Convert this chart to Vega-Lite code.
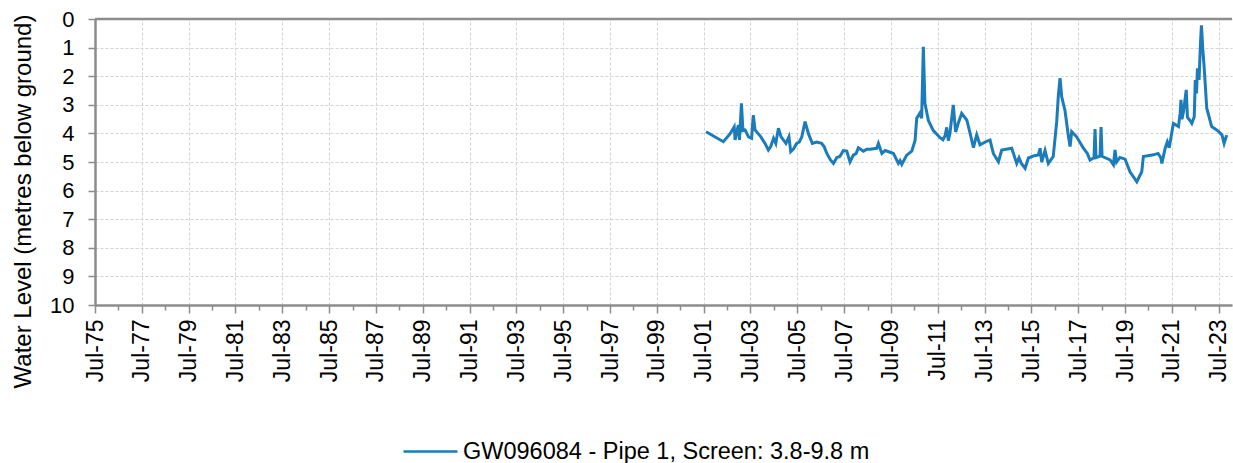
{
  "$schema": "https://vega.github.io/schema/vega-lite/v6.json",
  "width": 1137,
  "height": 286,
  "autosize": {"type": "none"},
  "padding": {"left": 95, "top": 19, "right": 1, "bottom": 158},
  "background": "white",
  "config": {"view": {"stroke": null}, "font": "Liberation Sans"},
  "encoding": {
    "y": {
      "field": "level", "type": "quantitative",
      "scale": {"domain": [0, 10], "reverse": true, "nice": false, "zero": false},
      "axis": {
        "title": "Water Level (metres below ground)",
        "values": [0, 1, 2, 3, 4, 5, 6, 7, 8, 9, 10],
        "labelOverlap": false,
        "labelFlush": false,
        "labelFontSize": 22,
        "labelColor": "#000000",
        "labelPadding": 14,
        "tickSize": 7,
        "tickColor": "#8c8c8c",
        "tickWidth": 1.5,
        "domainColor": "#8c8c8c",
        "domainWidth": 2.5,
        "grid": true,
        "gridColor": "#d4d4d4",
        "gridDash": [3, 2],
        "titleFontSize": 24,
        "titleFontWeight": "normal",
        "titleColor": "#000000",
        "titleAngle": -90,
        "titleX": -72,
        "titleY": 182,
        "titleAlign": "center",
        "titleBaseline": "middle"
      }
    }
  },
  "layer": [
    {
      "data": {"values": [
        {"date": "2001-08-07", "level": 3.94},
        {"date": "2002-05-04", "level": 4.29},
        {"date": "2002-08-15", "level": 4.02},
        {"date": "2002-10-20", "level": 3.77},
        {"date": "2002-11-03", "level": 4.23},
        {"date": "2002-11-28", "level": 3.95},
        {"date": "2002-12-24", "level": 3.71},
        {"date": "2003-01-10", "level": 4.23},
        {"date": "2003-02-10", "level": 2.95},
        {"date": "2003-03-05", "level": 3.90},
        {"date": "2003-04-08", "level": 3.88},
        {"date": "2003-06-01", "level": 4.12},
        {"date": "2003-07-19", "level": 4.17},
        {"date": "2003-08-14", "level": 3.36},
        {"date": "2003-09-10", "level": 3.88},
        {"date": "2003-12-10", "level": 4.12},
        {"date": "2004-02-13", "level": 4.35},
        {"date": "2004-04-05", "level": 4.58},
        {"date": "2004-05-10", "level": 4.47},
        {"date": "2004-06-25", "level": 4.17},
        {"date": "2004-07-30", "level": 4.35},
        {"date": "2004-09-09", "level": 3.82},
        {"date": "2004-10-20", "level": 4.12},
        {"date": "2005-01-05", "level": 4.35},
        {"date": "2005-02-20", "level": 4.12},
        {"date": "2005-03-20", "level": 4.64},
        {"date": "2005-05-01", "level": 4.55},
        {"date": "2005-06-21", "level": 4.35},
        {"date": "2005-08-01", "level": 4.30},
        {"date": "2005-09-09", "level": 4.12},
        {"date": "2005-10-30", "level": 3.59},
        {"date": "2005-12-20", "level": 4.00},
        {"date": "2006-02-20", "level": 4.35},
        {"date": "2006-04-30", "level": 4.30},
        {"date": "2006-07-15", "level": 4.35},
        {"date": "2006-08-25", "level": 4.47},
        {"date": "2006-10-04", "level": 4.70},
        {"date": "2006-12-01", "level": 4.93},
        {"date": "2007-01-15", "level": 5.05},
        {"date": "2007-03-08", "level": 4.85},
        {"date": "2007-04-28", "level": 4.80},
        {"date": "2007-06-18", "level": 4.60},
        {"date": "2007-08-11", "level": 4.62},
        {"date": "2007-10-01", "level": 5.00},
        {"date": "2007-11-22", "level": 4.76},
        {"date": "2008-01-05", "level": 4.70},
        {"date": "2008-02-09", "level": 4.50},
        {"date": "2008-04-27", "level": 4.62},
        {"date": "2008-06-20", "level": 4.55},
        {"date": "2008-08-10", "level": 4.55},
        {"date": "2008-11-21", "level": 4.52},
        {"date": "2008-12-17", "level": 4.35},
        {"date": "2009-02-09", "level": 4.70},
        {"date": "2009-04-01", "level": 4.60},
        {"date": "2009-06-18", "level": 4.66},
        {"date": "2009-08-08", "level": 4.70},
        {"date": "2009-10-24", "level": 5.05},
        {"date": "2009-11-20", "level": 4.95},
        {"date": "2009-12-17", "level": 5.08},
        {"date": "2010-03-04", "level": 4.76},
        {"date": "2010-05-22", "level": 4.62},
        {"date": "2010-07-12", "level": 4.25},
        {"date": "2010-08-07", "level": 3.47},
        {"date": "2010-09-27", "level": 3.28},
        {"date": "2010-10-23", "level": 3.47},
        {"date": "2010-11-18", "level": 0.97},
        {"date": "2010-12-13", "level": 2.95},
        {"date": "2011-02-05", "level": 3.55},
        {"date": "2011-04-23", "level": 3.90},
        {"date": "2011-08-07", "level": 4.15},
        {"date": "2011-09-20", "level": 4.22},
        {"date": "2011-10-23", "level": 4.08},
        {"date": "2011-11-18", "level": 3.79},
        {"date": "2011-12-13", "level": 4.25},
        {"date": "2012-01-08", "level": 3.99},
        {"date": "2012-02-28", "level": 3.00},
        {"date": "2012-04-05", "level": 3.95},
        {"date": "2012-05-15", "level": 3.65},
        {"date": "2012-07-08", "level": 3.30},
        {"date": "2012-09-26", "level": 3.53},
        {"date": "2012-11-17", "level": 4.00},
        {"date": "2013-01-08", "level": 4.50},
        {"date": "2013-02-28", "level": 4.05},
        {"date": "2013-04-20", "level": 4.40},
        {"date": "2013-07-10", "level": 4.30},
        {"date": "2013-09-24", "level": 4.23},
        {"date": "2013-11-14", "level": 4.70},
        {"date": "2014-02-02", "level": 4.99},
        {"date": "2014-03-25", "level": 4.58},
        {"date": "2014-08-28", "level": 4.52},
        {"date": "2014-11-14", "level": 5.05},
        {"date": "2014-12-20", "level": 4.85},
        {"date": "2015-01-25", "level": 5.05},
        {"date": "2015-03-25", "level": 5.22},
        {"date": "2015-05-15", "level": 4.86},
        {"date": "2015-08-15", "level": 4.78},
        {"date": "2015-10-17", "level": 4.75},
        {"date": "2015-11-14", "level": 4.52},
        {"date": "2015-12-09", "level": 5.00},
        {"date": "2016-01-30", "level": 4.60},
        {"date": "2016-03-21", "level": 5.05},
        {"date": "2016-06-06", "level": 4.81},
        {"date": "2016-07-30", "level": 3.59},
        {"date": "2016-08-25", "level": 2.66},
        {"date": "2016-09-20", "level": 2.07},
        {"date": "2016-10-16", "level": 2.72},
        {"date": "2016-12-06", "level": 3.20},
        {"date": "2017-01-30", "level": 4.12},
        {"date": "2017-02-24", "level": 4.46},
        {"date": "2017-03-21", "level": 3.94},
        {"date": "2017-06-06", "level": 4.12},
        {"date": "2017-09-20", "level": 4.52},
        {"date": "2017-11-20", "level": 4.70},
        {"date": "2018-01-01", "level": 4.93},
        {"date": "2018-03-04", "level": 4.85},
        {"date": "2018-03-20", "level": 3.85},
        {"date": "2018-04-05", "level": 4.85},
        {"date": "2018-06-06", "level": 4.80},
        {"date": "2018-06-22", "level": 3.78},
        {"date": "2018-07-08", "level": 4.80},
        {"date": "2018-11-10", "level": 4.93},
        {"date": "2019-01-01", "level": 5.10},
        {"date": "2019-01-26", "level": 4.58},
        {"date": "2019-02-20", "level": 5.00},
        {"date": "2019-04-12", "level": 4.84},
        {"date": "2019-07-02", "level": 4.90},
        {"date": "2019-09-16", "level": 5.34},
        {"date": "2020-01-01", "level": 5.69},
        {"date": "2020-03-18", "level": 5.34},
        {"date": "2020-04-12", "level": 4.81},
        {"date": "2020-09-16", "level": 4.75},
        {"date": "2020-11-28", "level": 4.70},
        {"date": "2021-01-10", "level": 4.85},
        {"date": "2021-01-26", "level": 5.05},
        {"date": "2021-03-18", "level": 4.52},
        {"date": "2021-04-20", "level": 4.30},
        {"date": "2021-05-20", "level": 4.50},
        {"date": "2021-07-24", "level": 3.65},
        {"date": "2021-10-12", "level": 3.76},
        {"date": "2021-11-07", "level": 3.30},
        {"date": "2021-11-20", "level": 2.83},
        {"date": "2021-12-05", "level": 3.50},
        {"date": "2021-12-28", "level": 3.25},
        {"date": "2022-02-10", "level": 2.48},
        {"date": "2022-03-01", "level": 3.43},
        {"date": "2022-04-10", "level": 3.55},
        {"date": "2022-05-08", "level": 3.65},
        {"date": "2022-06-15", "level": 3.42},
        {"date": "2022-07-01", "level": 2.13},
        {"date": "2022-07-20", "level": 2.60},
        {"date": "2022-08-04", "level": 1.72},
        {"date": "2022-08-29", "level": 2.13},
        {"date": "2022-09-20", "level": 0.85},
        {"date": "2022-10-05", "level": 0.22},
        {"date": "2022-10-25", "level": 1.00},
        {"date": "2022-11-20", "level": 1.80},
        {"date": "2022-12-27", "level": 3.12},
        {"date": "2023-03-14", "level": 3.76},
        {"date": "2023-06-24", "level": 3.92},
        {"date": "2023-08-21", "level": 4.05},
        {"date": "2023-09-24", "level": 4.35},
        {"date": "2023-11-03", "level": 4.06}
      ]},
      "mark": {"type": "line", "strokeWidth": 3, "interpolate": "linear"},
      "encoding": {
        "x": {
          "field": "date", "type": "temporal",
          "scale": {"domain": [{"year": 1975, "month": 7, "date": 1}, {"year": 2024, "month": 1, "date": 25}]},
          "axis": {
            "title": null,
            "values": [
              {"year": 1975, "month": 7, "date": 1}, {"year": 1976, "month": 7, "date": 1}, {"year": 1977, "month": 7, "date": 1}, {"year": 1978, "month": 7, "date": 1}, {"year": 1979, "month": 7, "date": 1},
              {"year": 1980, "month": 7, "date": 1}, {"year": 1981, "month": 7, "date": 1}, {"year": 1982, "month": 7, "date": 1}, {"year": 1983, "month": 7, "date": 1}, {"year": 1984, "month": 7, "date": 1},
              {"year": 1985, "month": 7, "date": 1}, {"year": 1986, "month": 7, "date": 1}, {"year": 1987, "month": 7, "date": 1}, {"year": 1988, "month": 7, "date": 1}, {"year": 1989, "month": 7, "date": 1},
              {"year": 1990, "month": 7, "date": 1}, {"year": 1991, "month": 7, "date": 1}, {"year": 1992, "month": 7, "date": 1}, {"year": 1993, "month": 7, "date": 1}, {"year": 1994, "month": 7, "date": 1},
              {"year": 1995, "month": 7, "date": 1}, {"year": 1996, "month": 7, "date": 1}, {"year": 1997, "month": 7, "date": 1}, {"year": 1998, "month": 7, "date": 1}, {"year": 1999, "month": 7, "date": 1},
              {"year": 2000, "month": 7, "date": 1}, {"year": 2001, "month": 7, "date": 1}, {"year": 2002, "month": 7, "date": 1}, {"year": 2003, "month": 7, "date": 1}, {"year": 2004, "month": 7, "date": 1},
              {"year": 2005, "month": 7, "date": 1}, {"year": 2006, "month": 7, "date": 1}, {"year": 2007, "month": 7, "date": 1}, {"year": 2008, "month": 7, "date": 1}, {"year": 2009, "month": 7, "date": 1},
              {"year": 2010, "month": 7, "date": 1}, {"year": 2011, "month": 7, "date": 1}, {"year": 2012, "month": 7, "date": 1}, {"year": 2013, "month": 7, "date": 1}, {"year": 2014, "month": 7, "date": 1},
              {"year": 2015, "month": 7, "date": 1}, {"year": 2016, "month": 7, "date": 1}, {"year": 2017, "month": 7, "date": 1}, {"year": 2018, "month": 7, "date": 1}, {"year": 2019, "month": 7, "date": 1},
              {"year": 2020, "month": 7, "date": 1}, {"year": 2021, "month": 7, "date": 1}, {"year": 2022, "month": 7, "date": 1}, {"year": 2023, "month": 7, "date": 1}
            ],
            "labelExpr": "year(datum.value) % 2 == 1 ? timeFormat(datum.value, '%b-%y') : ''",
            "labelAngle": -90,
            "labelAlign": "right",
            "labelBaseline": "middle",
            "labelFontSize": 23,
            "labelColor": "#000000",
            "labelPadding": 6,
            "labelOverlap": false,
            "labelFlush": false,
            "tickSize": {"condition": {"test": "year(datum.value) % 2 == 1", "value": 8}, "value": 5},
            "tickColor": "#8c8c8c",
            "tickWidth": 1.5,
            "grid": true,
            "gridOpacity": {"condition": {"test": "year(datum.value) % 2 == 1", "value": 1}, "value": 0},
            "gridColor": "#d4d4d4",
            "gridDash": [3, 2],
            "domainColor": "#8c8c8c",
            "domainWidth": 2.5
          }
        },
        "color": {
          "datum": "GW096084 - Pipe 1, Screen: 3.8-9.8 m",
          "type": "nominal",
          "scale": {"range": ["#1b7bbb"]},
          "legend": {
            "title": null,
            "orient": "none",
            "legendX": 307,
            "legendY": 404,
            "symbolType": "stroke",
            "symbolSize": 2916,
            "symbolStrokeWidth": 2.5,
            "labelFontSize": 23.5,
            "labelColor": "#000000",
            "labelOffset": 4,
            "labelLimit": 700
          }
        }
      }
    },
    {
      "data": {"values": [{"level": 0}]},
      "mark": {"type": "rule", "color": "#8c8c8c", "strokeWidth": 2.5},
      "encoding": {}
    }
  ]
}
